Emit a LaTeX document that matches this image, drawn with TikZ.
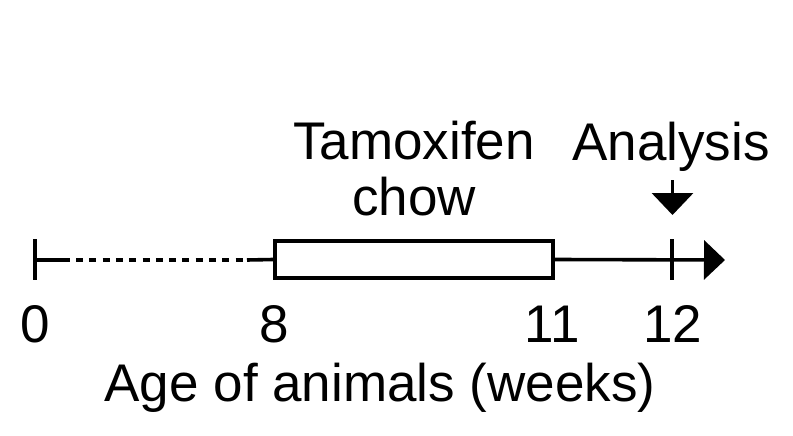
\documentclass[tikz,border=0pt]{standalone}
\usepackage{fontspec}
\setmainfont{Liberation Sans}
\usetikzlibrary{arrows.meta}
\tikzset{
  lbl/.style={inner sep=0pt, anchor=base, font=\fontsize{53}{56}\selectfont},
  axisline/.style={line width=3.6pt, black},
  tickmark/.style={line width=3.6pt, black},
  weekbox/.style={draw, line width=3.6pt, fill=white, minimum width=278pt, minimum height=37pt, inner sep=0pt},
}
\begin{document}
\begin{tikzpicture}[x=1pt, y=-1pt]
\useasboundingbox (0,0) rectangle (793,436);
% axis points
\coordinate (t0) at (35,260);
\coordinate (s1) at (70,260);
\coordinate (d1) at (76,260);
\coordinate (d2) at (247,260);
\coordinate (t12) at (672,260);
\coordinate (tip) at (725,260);
\node[weekbox] (box) at (414,259.5) {};
% ticks
\draw[tickmark] (35,239) -- (35,280);
\draw[tickmark] (672,239) -- (672,280);
% axis
\draw[axisline] (t0) -- (s1);
\draw[axisline, dash pattern=on 7pt off 6.3pt] (d1) -- (d2);
\draw[axisline] (d2) -- (box.west);
\draw[axisline, -{Triangle[length=21pt, width=39pt]}] (box.east) -- (tip);
% analysis arrow
\coordinate (a0) at (672.5,180);
\coordinate (a1) at (672.5,215);
\draw[line width=3.6pt, -{Triangle[length=22pt, width=41pt]}] (a0) -- (a1);
% labels
\node[lbl, align=center] (tam) at (414,215) {Tamoxifen\\chow};
\node[lbl] (ana) at (671,160) {Analysis};
\node[lbl] (n0) at (35,342) {0};
\node[lbl] (n8) at (274,342) {8};
\node[lbl] (n11) at (552,342) {11};
\node[lbl] (n12) at (673,342) {12};
\node[lbl] (age) at (380,401) {Age of animals (weeks)};
\end{tikzpicture}
\end{document}
